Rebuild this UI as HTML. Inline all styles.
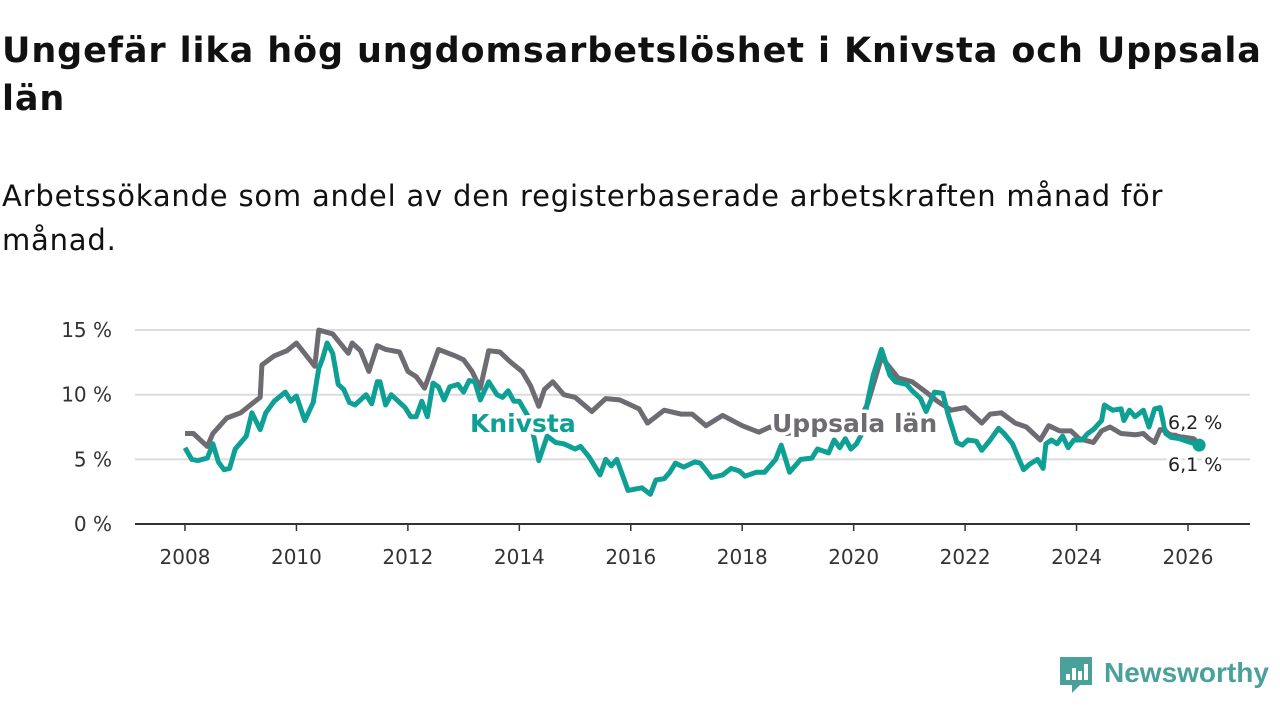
<!DOCTYPE html>
<html><head><meta charset="utf-8"><style>
body{margin:0;width:1280px;height:720px;background:#fff;font-family:"DejaVu Sans","Liberation Sans",sans-serif;overflow:hidden;position:relative}
h1{position:absolute;left:2px;top:27px;margin:0;font-size:35px;line-height:48px;font-weight:bold;color:#111;width:1275px;letter-spacing:0.9px}
p{position:absolute;left:2px;top:174px;margin:0;font-size:29px;line-height:44px;color:#111;width:1200px;letter-spacing:0.8px}
svg{position:absolute;left:0;top:0}
</style></head><body>
<h1>Ungefär lika hög ungdomsarbetslöshet i Knivsta och Uppsala län</h1>
<p>Arbetssökande som andel av den registerbaserade arbetskraften månad för månad.</p>
<svg id="chart" width="1280" height="720"></svg>
<script>
const yTicks=[0,5,10,15];
const yTickLabels=["0 %","5 %","10 %","15 %"];
const xTicks=[2008,2010,2012,2014,2016,2018,2020,2022,2024,2026];
const uppDates=[2008.0,2008.15,2008.4,2008.5,2008.75,2009.0,2009.2,2009.35,2009.38,2009.6,2009.83,2010.0,2010.33,2010.4,2010.65,2010.93,2011.0,2011.15,2011.3,2011.45,2011.6,2011.85,2012.0,2012.15,2012.3,2012.55,2012.85,2013.0,2013.15,2013.3,2013.45,2013.65,2013.85,2014.05,2014.2,2014.35,2014.45,2014.6,2014.8,2015.0,2015.3,2015.55,2015.8,2016.0,2016.15,2016.3,2016.6,2016.9,2017.1,2017.35,2017.65,2018.0,2018.3,2018.5,2018.8,2019.1,2019.5,2019.8,2020.1,2020.25,2020.5,2020.8,2021.05,2021.3,2021.5,2021.75,2022.0,2022.3,2022.45,2022.65,2022.9,2023.1,2023.35,2023.5,2023.7,2023.9,2024.05,2024.3,2024.45,2024.6,2024.8,2025.05,2025.2,2025.3,2025.4,2025.5,2025.65,2025.8,2026.1,2026.2];
const uppValues=[7.0,7.0,6.0,7.0,8.2,8.6,9.3,9.8,12.3,13.0,13.4,14.0,12.2,15.0,14.7,13.2,14.0,13.4,11.8,13.8,13.5,13.3,11.8,11.4,10.5,13.5,13.0,12.7,11.8,10.5,13.4,13.3,12.5,11.8,10.7,9.1,10.4,11.0,10.0,9.8,8.7,9.7,9.6,9.2,8.9,7.8,8.8,8.5,8.5,7.6,8.4,7.6,7.1,7.5,7.0,7.2,7.3,7.5,8.0,9.3,12.9,11.3,11.0,10.2,9.5,8.8,9.0,7.8,8.5,8.6,7.8,7.5,6.5,7.6,7.2,7.2,6.6,6.3,7.2,7.5,7.0,6.9,7.0,6.6,6.3,7.3,7.2,6.8,6.6,6.2];
const kniDates=[2008.0,2008.12,2008.23,2008.4,2008.5,2008.6,2008.7,2008.8,2008.9,2009.1,2009.2,2009.35,2009.45,2009.6,2009.8,2009.9,2010.0,2010.15,2010.3,2010.4,2010.47,2010.55,2010.65,2010.75,2010.85,2010.95,2011.05,2011.25,2011.35,2011.45,2011.5,2011.6,2011.7,2011.95,2012.05,2012.15,2012.25,2012.35,2012.45,2012.55,2012.65,2012.75,2012.9,2013.0,2013.1,2013.2,2013.3,2013.45,2013.6,2013.7,2013.8,2013.9,2014.0,2014.2,2014.35,2014.5,2014.65,2014.8,2015.0,2015.1,2015.25,2015.45,2015.55,2015.65,2015.75,2015.85,2015.95,2016.2,2016.35,2016.45,2016.6,2016.7,2016.8,2016.95,2017.15,2017.25,2017.45,2017.65,2017.8,2017.95,2018.05,2018.25,2018.4,2018.6,2018.7,2018.85,2019.05,2019.25,2019.35,2019.55,2019.65,2019.75,2019.85,2019.95,2020.05,2020.15,2020.25,2020.35,2020.5,2020.65,2020.75,2020.95,2021.05,2021.2,2021.3,2021.45,2021.6,2021.7,2021.85,2021.95,2022.05,2022.2,2022.3,2022.45,2022.6,2022.7,2022.85,2022.95,2023.05,2023.15,2023.3,2023.4,2023.45,2023.55,2023.65,2023.75,2023.85,2023.95,2024.1,2024.2,2024.3,2024.45,2024.5,2024.65,2024.8,2024.85,2024.95,2025.05,2025.2,2025.3,2025.4,2025.5,2025.6,2025.7,2025.85,2026.05,2026.2];
const kniValues=[5.9,5.0,4.9,5.1,6.2,4.8,4.2,4.3,5.8,6.8,8.6,7.3,8.6,9.5,10.2,9.5,9.9,8.0,9.4,12.0,12.8,14.0,13.2,10.8,10.4,9.4,9.2,10.0,9.3,11.0,11.0,9.2,10.0,9.0,8.3,8.3,9.5,8.3,10.9,10.6,9.6,10.6,10.8,10.2,11.1,11.0,9.6,11.0,10.0,9.8,10.3,9.5,9.5,8.0,4.9,6.8,6.3,6.2,5.8,6.0,5.2,3.8,5.0,4.5,5.0,3.8,2.6,2.8,2.3,3.4,3.5,4.0,4.7,4.4,4.8,4.7,3.6,3.8,4.3,4.1,3.7,4.0,4.0,5.0,6.1,4.0,5.0,5.1,5.8,5.5,6.5,5.9,6.6,5.8,6.2,7.0,9.5,11.5,13.5,11.5,11.0,10.8,10.3,9.7,8.7,10.2,10.1,8.4,6.3,6.1,6.5,6.4,5.7,6.5,7.4,7.0,6.2,5.2,4.2,4.6,5.0,4.3,6.2,6.5,6.2,6.8,5.9,6.5,6.5,7.0,7.3,8.0,9.2,8.8,8.9,8.0,8.8,8.3,8.8,7.5,8.9,9.0,7.0,6.7,6.6,6.3,6.1];
const NS="http://www.w3.org/2000/svg";
const svg=document.getElementById('chart');
const X=y=>185+(y-2008)*(1188-185)/18;
const Y=v=>524-v*12.93;
function mk(t,a,p){const e=document.createElementNS(NS,t);for(const k in a)e.setAttribute(k,a[k]);(p||svg).appendChild(e);return e;}
yTicks.forEach((t,i)=>{
 if(t>0){const g=mk('line',{x1:135,x2:1250,y1:Y(t),y2:Y(t),stroke:'#dcdcdc','stroke-width':2});
 
 }
 const l=mk('text',{x:112,y:Y(t)+7,'text-anchor':'end','font-size':20,fill:'#333'});l.textContent=yTickLabels[i];
 
 
});
const ax=mk('line',{x1:135,x2:1250,y1:524,y2:524,stroke:'#333','stroke-width':2});


xTicks.forEach(t=>{
 mk('line',{x1:X(t),x2:X(t),y1:524,y2:531,stroke:'#333','stroke-width':1.5});
 const l=mk('text',{x:X(t),y:564,'text-anchor':'middle','font-size':20,fill:'#333'});l.textContent=t;
 
 
});
function line(d,v,c,name){
 const p=mk('path',{d:d.map((x,i)=>(i?'L':'M')+X(x).toFixed(1)+','+Y(v[i]).toFixed(1)).join(''),fill:'none',stroke:c,'stroke-width':5,'stroke-linejoin':'round'});
 
 
}
line(uppDates,uppValues,'#6e6c72','uppsala-line');
line(kniDates,kniValues,'#0fa095','knivsta-line');
const dot=mk('circle',{cx:X(kniDates[kniDates.length-1]),cy:Y(kniValues[kniValues.length-1]),r:6.5,fill:'#0fa095'});


function lab(x,y,t,c,w,name,fs){const e=mk('text',{x:x,y:y,'font-size':fs,'font-weight':w,fill:c,stroke:'#fff','stroke-width':7,'paint-order':'stroke','stroke-linejoin':'round'});e.textContent=t;
 
 }
lab(470,432,'Knivsta','#0fa095','bold','knivsta-label',25);
lab(772,432,'Uppsala län','#6e6c72','bold','uppsala-label',25);
lab(1168,429,'6,2 %','#222','normal','uppsala-end-value',19);
lab(1168,471,'6,1 %','#222','normal','knivsta-end-value',19);
const g=mk('g',{});


mk('path',{d:'M1060 657h32v28h-12l-8 8v-8h-12z',fill:'#4aa19a'},g);
[[1066,6],[1072,12],[1078,9],[1084,16]].forEach(b=>mk('rect',{x:b[0],y:680-b[1],width:4,height:b[1],fill:'#fff'},g));
const t=mk('text',{x:1104,y:682,'font-size':28,'font-weight':'bold',fill:'#4aa19a','font-family':'Liberation Sans, sans-serif'},g);t.textContent='Newsworthy';
</script>
</body></html>
